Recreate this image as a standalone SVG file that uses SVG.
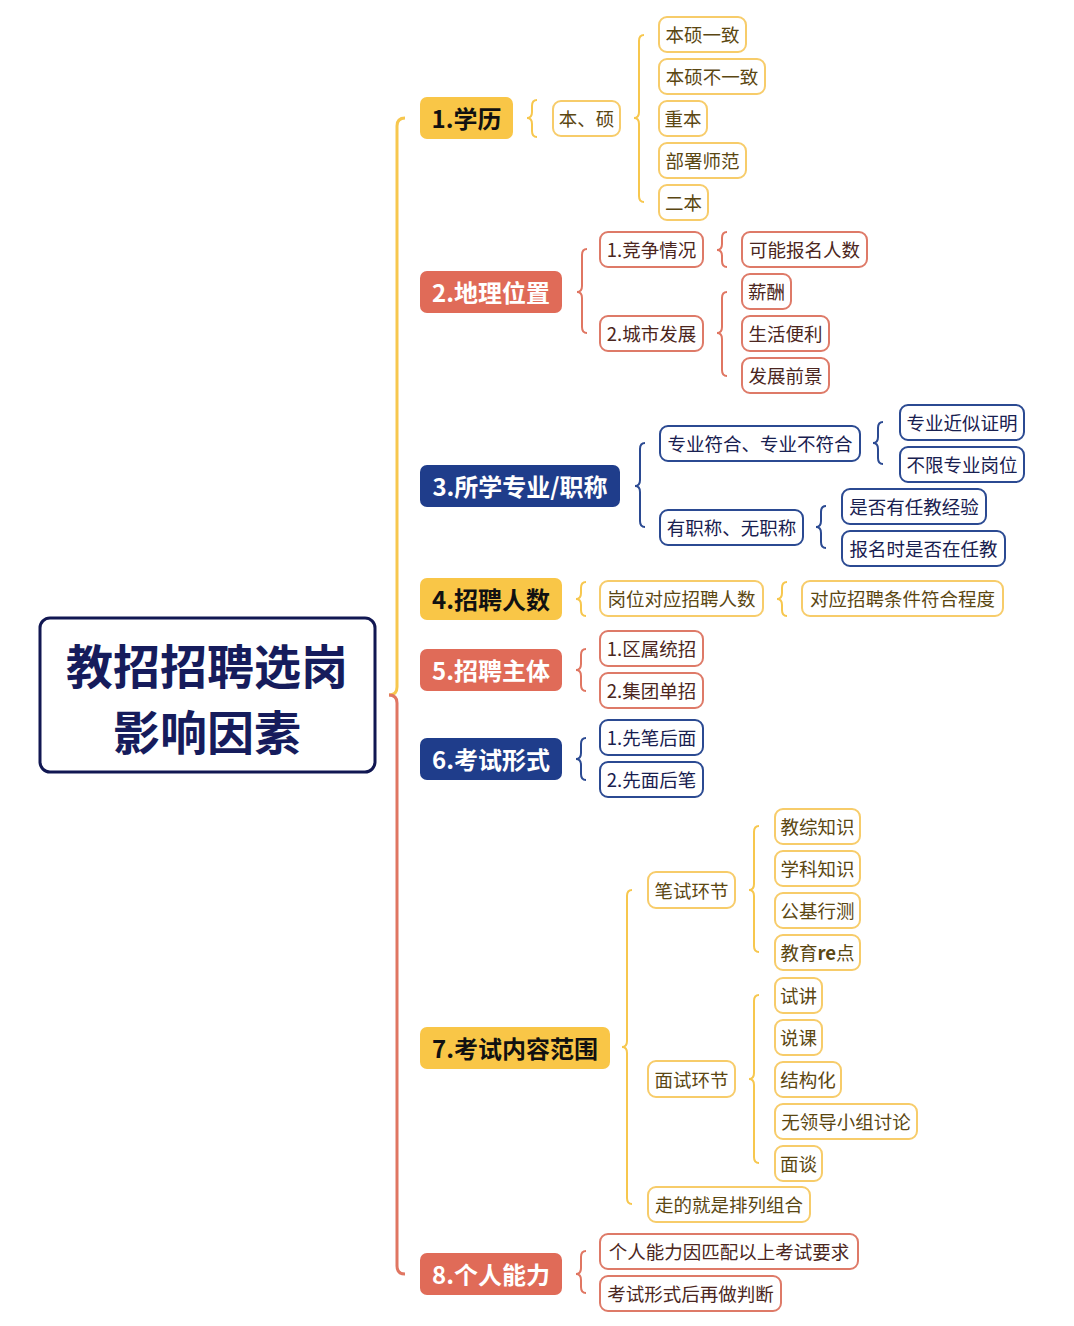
<svg xmlns="http://www.w3.org/2000/svg" width="1074" height="1326" viewBox="0 0 1074 1326">
<style>
.t{font-family:"Noto Sans CJK SC","Noto Sans",sans-serif;text-anchor:middle;dominant-baseline:central}
.l1{font-size:24px;font-weight:700}
.lf{font-size:18.5px}
.ry{fill:#F9C647}.rr{fill:#E06B58}.rb{fill:#1F3D8B}
.ly{fill:#fff;stroke:#F7CC6A;stroke-width:2}
.lr{fill:#fff;stroke:#DE7A68;stroke-width:2}
.lb{fill:#fff;stroke:#2B4A92;stroke-width:2}
.ty{fill:#5B4712}.tr{fill:#4B2620}.tb{fill:#182050}
.tk{fill:#111}.tw{fill:#fff}
.cy{fill:none;stroke:#F7C74E;stroke-width:2}
.cr{fill:none;stroke:#E07662;stroke-width:2}
.cb{fill:none;stroke:#2B4A92;stroke-width:2}
.rt{font-size:47px;font-weight:700;fill:#161C5C}
</style>
<rect width="1074" height="1326" fill="#fff"/>
<g id="connectors">
<path class="cy" style="stroke-width:3" d="M405,118 Q397,118 397,126 L397,687 Q397,695 389,695"/>
<path class="cr" style="stroke-width:3" d="M389,695 Q397,695 397,703 L397,1266 Q397,1274 405,1274"/>
<path class="cy" d="M537,100 Q532,100 532,106 L532,112 Q532,118 527,118 Q532,118 532,124 L532,131 Q532,137 537,137"/>
<path class="cy" d="M644,35 Q639,35 639,41 L639,112 Q639,118 634,118 Q639,118 639,124 L639,196 Q639,202 644,202"/>
<path class="cr" d="M587,249 Q582,249 582,255 L582,286 Q582,292 577,292 Q582,292 582,298 L582,327 Q582,333 587,333"/>
<path class="cr" d="M727,232 Q722,232 722,238 L722,244 Q722,250 717,250 Q722,250 722,256 L722,261 Q722,267 727,267"/>
<path class="cr" d="M727,292 Q722,292 722,298 L722,327 Q722,333 717,333 Q722,333 722,339 L722,370 Q722,376 727,376"/>
<path class="cb" d="M645,443 Q640,443 640,449 L640,480 Q640,486 635,486 Q640,486 640,492 L640,521 Q640,527 645,527"/>
<path class="cb" d="M883,422 Q878,422 878,428 L878,437 Q878,443 873,443 Q878,443 878,449 L878,458 Q878,464 883,464"/>
<path class="cb" d="M826,506 Q821,506 821,512 L821,521 Q821,527 816,527 Q821,527 821,533 L821,542 Q821,548 826,548"/>
<path class="cy" d="M586,582 Q581,582 581,588 L581,593 Q581,599 576,599 Q581,599 581,605 L581,610 Q581,616 586,616"/>
<path class="cy" d="M787,582 Q782,582 782,588 L782,593 Q782,599 777,599 Q782,599 782,605 L782,610 Q782,616 787,616"/>
<path class="cr" d="M586,649 Q581,649 581,655 L581,664 Q581,670 576,670 Q581,670 581,676 L581,685 Q581,691 586,691"/>
<path class="cb" d="M586,738 Q581,738 581,744 L581,753 Q581,759 576,759 Q581,759 581,765 L581,774 Q581,780 586,780"/>
<path class="cy" d="M632,890 Q627,890 627,896 L627,1041 Q627,1047 622,1047 Q627,1047 627,1053 L627,1198 Q627,1204 632,1204"/>
<path class="cy" d="M759,826 Q754,826 754,832 L754,884 Q754,890 749,890 Q754,890 754,896 L754,946 Q754,952 759,952"/>
<path class="cy" d="M759,995 Q754,995 754,1001 L754,1073 Q754,1079 749,1079 Q754,1079 754,1085 L754,1157 Q754,1163 759,1163"/>
<path class="cr" d="M586,1251 Q581,1251 581,1257 L581,1268 Q581,1274 576,1274 Q581,1274 581,1280 L581,1287 Q581,1293 586,1293"/>
</g>
<g id="root">
<rect x="40" y="618" width="335" height="154" rx="10" fill="#fff" stroke="#111752" stroke-width="3"/>
<text class="t rt" x="207" y="663">教招招聘选岗</text>
<text class="t rt" x="207" y="729">影响因素</text>
</g>
<g id="n1"><rect class="ry" x="420" y="97" width="93" height="42" rx="7"/><text class="t l1 tk" x="466.5" y="117">1.学历</text></g>
<g id="n1a"><rect class="ly" x="553" y="101" width="67" height="35" rx="8"/><text class="t lf ty" x="586.5" y="118">本、硕</text></g>
<g id="n1a1"><rect class="ly" x="659" y="17" width="87" height="35" rx="8"/><text class="t lf ty" x="702.5" y="34">本硕一致</text></g>
<g id="n1a2"><rect class="ly" x="659" y="59" width="106" height="35" rx="8"/><text class="t lf ty" x="712" y="76">本硕不一致</text></g>
<g id="n1a3"><rect class="ly" x="659" y="101" width="48" height="35" rx="8"/><text class="t lf ty" x="683" y="118">重本</text></g>
<g id="n1a4"><rect class="ly" x="659" y="143" width="87" height="35" rx="8"/><text class="t lf ty" x="702.5" y="160">部署师范</text></g>
<g id="n1a5"><rect class="ly" x="659" y="185" width="49" height="35" rx="8"/><text class="t lf ty" x="683.5" y="202">二本</text></g>
<g id="n2"><rect class="rr" x="420" y="271" width="142" height="42" rx="7"/><text class="t l1 tw" x="491" y="291">2.地理位置</text></g>
<g id="n2a"><rect class="lr" x="600" y="232" width="103" height="35" rx="8"/><text class="t lf tr" x="651.5" y="249">1.竞争情况</text></g>
<g id="n2a1"><rect class="lr" x="742" y="232" width="125" height="35" rx="8"/><text class="t lf tr" x="804.5" y="249">可能报名人数</text></g>
<g id="n2b"><rect class="lr" x="600" y="316" width="103" height="35" rx="8"/><text class="t lf tr" x="651.5" y="333">2.城市发展</text></g>
<g id="n2b1"><rect class="lr" x="742" y="274" width="49" height="35" rx="8"/><text class="t lf tr" x="766.5" y="291">薪酬</text></g>
<g id="n2b2"><rect class="lr" x="742" y="316" width="87" height="35" rx="8"/><text class="t lf tr" x="785.5" y="333">生活便利</text></g>
<g id="n2b3"><rect class="lr" x="742" y="358" width="87" height="35" rx="8"/><text class="t lf tr" x="785.5" y="375">发展前景</text></g>
<g id="n3"><rect class="rb" x="420" y="465" width="200" height="42" rx="7"/><text class="t l1 tw" x="520" y="485">3.所学专业/职称</text></g>
<g id="n3a"><rect class="lb" x="660" y="426" width="200" height="35" rx="8"/><text class="t lf tb" x="760" y="443">专业符合、专业不符合</text></g>
<g id="n3a1"><rect class="lb" x="900" y="405" width="124" height="35" rx="8"/><text class="t lf tb" x="962" y="422">专业近似证明</text></g>
<g id="n3a2"><rect class="lb" x="900" y="447" width="124" height="35" rx="8"/><text class="t lf tb" x="962" y="464">不限专业岗位</text></g>
<g id="n3b"><rect class="lb" x="660" y="510" width="143" height="35" rx="8"/><text class="t lf tb" x="731.5" y="527">有职称、无职称</text></g>
<g id="n3b1"><rect class="lb" x="842" y="489" width="144" height="35" rx="8"/><text class="t lf tb" x="914" y="506">是否有任教经验</text></g>
<g id="n3b2"><rect class="lb" x="842" y="531" width="163" height="35" rx="8"/><text class="t lf tb" x="923.5" y="548">报名时是否在任教</text></g>
<g id="n4"><rect class="ry" x="420" y="578" width="142" height="42" rx="7"/><text class="t l1 tk" x="491" y="598">4.招聘人数</text></g>
<g id="n4a"><rect class="ly" x="600" y="581" width="163" height="35" rx="8"/><text class="t lf ty" x="681.5" y="598">岗位对应招聘人数</text></g>
<g id="n4a1"><rect class="ly" x="802" y="581" width="201" height="35" rx="8"/><text class="t lf ty" x="902.5" y="598">对应招聘条件符合程度</text></g>
<g id="n5"><rect class="rr" x="420" y="649" width="142" height="42" rx="7"/><text class="t l1 tw" x="491" y="669">5.招聘主体</text></g>
<g id="n5a"><rect class="lr" x="600" y="631" width="103" height="35" rx="8"/><text class="t lf tr" x="651.5" y="648">1.区属统招</text></g>
<g id="n5b"><rect class="lr" x="600" y="673" width="103" height="35" rx="8"/><text class="t lf tr" x="651.5" y="690">2.集团单招</text></g>
<g id="n6"><rect class="rb" x="420" y="738" width="142" height="42" rx="7"/><text class="t l1 tw" x="491" y="758">6.考试形式</text></g>
<g id="n6a"><rect class="lb" x="600" y="720" width="103" height="35" rx="8"/><text class="t lf tb" x="651.5" y="737">1.先笔后面</text></g>
<g id="n6b"><rect class="lb" x="600" y="762" width="103" height="35" rx="8"/><text class="t lf tb" x="651.5" y="779">2.先面后笔</text></g>
<g id="n7"><rect class="ry" x="420" y="1027" width="190" height="42" rx="7"/><text class="t l1 tk" x="515" y="1047">7.考试内容范围</text></g>
<g id="n7a"><rect class="ly" x="648" y="872" width="87" height="36" rx="8"/><text class="t lf ty" x="691.5" y="889.5">笔试环节</text></g>
<g id="n7a1"><rect class="ly" x="775" y="809" width="85" height="35" rx="8"/><text class="t lf ty" x="817.5" y="826">教综知识</text></g>
<g id="n7a2"><rect class="ly" x="775" y="851" width="85" height="35" rx="8"/><text class="t lf ty" x="817.5" y="868">学科知识</text></g>
<g id="n7a3"><rect class="ly" x="775" y="893" width="85" height="35" rx="8"/><text class="t lf ty" x="817.5" y="910">公基行测</text></g>
<g id="n7a4"><rect class="ly" x="775" y="935" width="85" height="35" rx="8"/><text class="t lf ty" x="817.5" y="952">教育<tspan font-weight="700">re</tspan>点</text></g>
<g id="n7b"><rect class="ly" x="648" y="1061" width="87" height="36" rx="8"/><text class="t lf ty" x="691.5" y="1078.5">面试环节</text></g>
<g id="n7b1"><rect class="ly" x="775" y="978" width="47" height="35" rx="8"/><text class="t lf ty" x="798.5" y="995">试讲</text></g>
<g id="n7b2"><rect class="ly" x="775" y="1020" width="47" height="35" rx="8"/><text class="t lf ty" x="798.5" y="1037">说课</text></g>
<g id="n7b3"><rect class="ly" x="775" y="1062" width="66" height="35" rx="8"/><text class="t lf ty" x="808" y="1079">结构化</text></g>
<g id="n7b4"><rect class="ly" x="775" y="1104" width="142" height="35" rx="8"/><text class="t lf ty" x="846" y="1121">无领导小组讨论</text></g>
<g id="n7b5"><rect class="ly" x="775" y="1146" width="47" height="35" rx="8"/><text class="t lf ty" x="798.5" y="1163">面谈</text></g>
<g id="n7c"><rect class="ly" x="648" y="1187" width="162" height="35" rx="8"/><text class="t lf ty" x="729" y="1204">走的就是排列组合</text></g>
<g id="n8"><rect class="rr" x="420" y="1253" width="142" height="42" rx="7"/><text class="t l1 tw" x="491" y="1273">8.个人能力</text></g>
<g id="n8a"><rect class="lr" x="600" y="1234" width="258" height="35" rx="8"/><text class="t lf tr" x="729" y="1251">个人能力因匹配以上考试要求</text></g>
<g id="n8b"><rect class="lr" x="600" y="1276" width="181" height="35" rx="8"/><text class="t lf tr" x="690.5" y="1293">考试形式后再做判断</text></g>
</svg>
